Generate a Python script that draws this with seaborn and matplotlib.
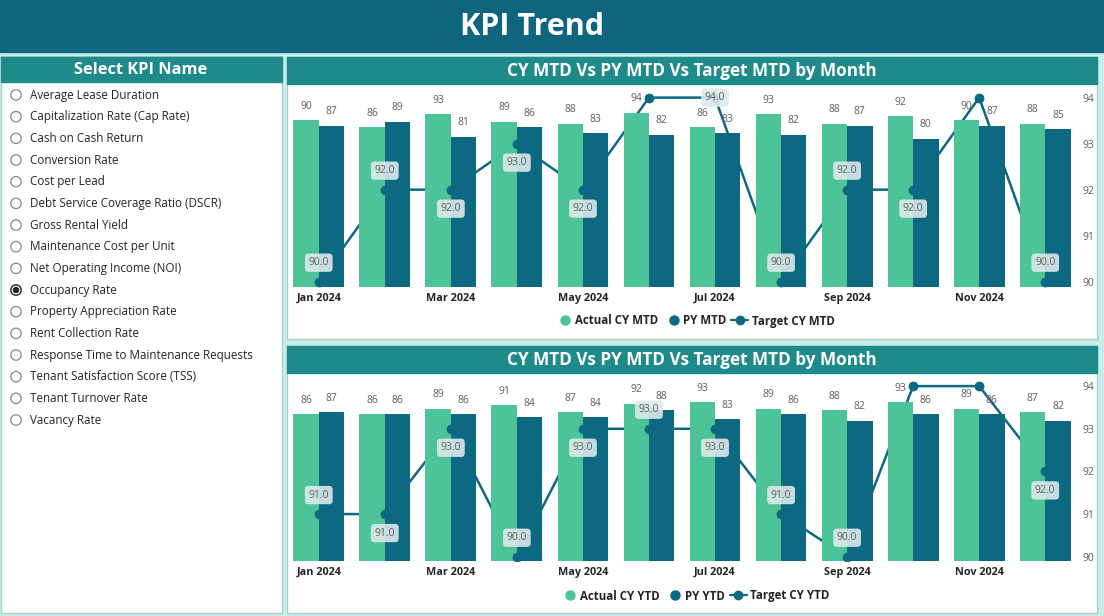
import numpy as np
import pandas as pd
import matplotlib
matplotlib.use('Agg')
import matplotlib.pyplot as plt
import seaborn as sns
from matplotlib.patches import Rectangle, Circle
from matplotlib.lines import Line2D
from matplotlib.legend_handler import HandlerBase

months = ['Jan 2024', 'Feb 2024', 'Mar 2024', 'Apr 2024', 'May 2024', 'Jun 2024',
          'Jul 2024', 'Aug 2024', 'Sep 2024', 'Oct 2024', 'Nov 2024', 'Dec 2024']

actual_mtd = [90, 86, 93, 89, 88, 94, 86, 93, 88, 92, 90, 88]
py_mtd = [87, 89, 81, 86, 83, 82, 83, 82, 87, 80, 87, 85]
target_mtd = [90, 92, 92, 93, 92, 94, 94, 90, 92, 92, 94, 90]

actual_ytd = [86, 86, 89, 91, 87, 92, 93, 89, 88, 93, 89, 87]
py_ytd = [87, 86, 86, 84, 84, 88, 83, 86, 82, 86, 86, 82]
target_ytd = [91, 91, 93, 90, 93, 93, 93, 91, 90, 94, 94, 92]

target_ticks = [90, 91, 92, 93, 94]

kpi_names = ['Average Lease Duration', 'Capitalization Rate (Cap Rate)', 'Cash on Cash Return',
             'Conversion Rate', 'Cost per Lead', 'Debt Service Coverage Ratio (DSCR)',
             'Gross Rental Yield', 'Maintenance Cost per Unit', 'Net Operating Income (NOI)',
             'Occupancy Rate', 'Property Appreciation Rate', 'Rent Collection Rate',
             'Response Time to Maintenance Requests', 'Tenant Satisfaction Score (TSS)',
             'Tenant Turnover Rate', 'Vacancy Rate']
selected_kpi = 'Occupancy Rate'

# where the target data labels sit (up / down / on the point / hidden)
mtd_label_pos = ['up', 'up', 'down', 'down', 'down', None, 'mid', 'up', 'up', 'down', None, 'up']
ytd_label_pos = ['up', 'down', 'down', 'up', 'down', 'up', 'down', 'up', 'up', None, None, 'down']

# ---- style ----
GREEN = '#4DC498'
TEAL = '#0D6882'
TITLE_BG = '#10657E'
HEADER = '#1E8A89'
LIGHT = '#C9EEE9'
TEXT = '#252423'
GREY = '#605E5C'
W, H = 1104, 616

sns.set_theme(style='white')
plt.rcParams['font.family'] = ['Open Sans', 'DejaVu Sans']


# legend handles: dot hugging its text, and a line with a dot in the middle
class DotHandler(HandlerBase):
    def create_artists(self, legend, orig_handle, xdescent, ydescent, width, height, fontsize, trans):
        dot = Line2D([width * 0.72 - xdescent], [height / 2 - ydescent], marker='o', ls='none',
                     color=orig_handle.get_color(), ms=orig_handle.get_markersize(), transform=trans)
        return [dot]


class LineDotHandler(HandlerBase):
    def create_artists(self, legend, orig_handle, xdescent, ydescent, width, height, fontsize, trans):
        y = height / 2 - ydescent
        x0, x1 = width * 0.22 - xdescent, width - xdescent
        line = Line2D([x0, x1], [y, y], color=orig_handle.get_color(), lw=orig_handle.get_linewidth(),
                      transform=trans)
        dot = Line2D([(x0 + x1) / 2], [y], marker='o', ls='none', color=orig_handle.get_color(),
                     ms=orig_handle.get_markersize(), transform=trans)
        return [line, dot]


fig = plt.figure(figsize=(W / 100, H / 100), dpi=100)

# background canvas in pixel coordinates
bg = fig.add_axes([0, 0, 1, 1])
bg.set_xlim(0, W)
bg.set_ylim(H, 0)
bg.axis('off')
bg.add_patch(Rectangle((0, 0), W, H, color=LIGHT))
bg.add_patch(Rectangle((0, 0), W, 52, color=TITLE_BG))
bg.text(532, 27, 'KPI Trend', color='white', fontsize=22, fontweight='bold', ha='center', va='center')

# panels
for (x0, y0, w, h) in [(1, 56, 281, 557), (287, 57, 810, 282), (287, 346, 810, 267)]:
    bg.add_patch(Rectangle((x0, y0), w, h, fc='white', ec='#A5D3CD', lw=1))
bg.add_patch(Rectangle((1, 57), 281, 25, color=HEADER))
bg.add_patch(Rectangle((287, 57), 810, 27, color=HEADER))
bg.add_patch(Rectangle((287, 346), 810, 27, color=HEADER))
bg.text(141, 70, 'Select KPI Name', color='white', fontsize=11.8, fontweight='bold', ha='center', va='center')
bg.text(692, 71, 'CY MTD Vs PY MTD Vs Target MTD by Month', color='white', fontsize=12.3,
        fontweight='bold', ha='center', va='center')
bg.text(692, 360, 'CY MTD Vs PY MTD Vs Target MTD by Month', color='white', fontsize=12.3,
        fontweight='bold', ha='center', va='center')

# slicer list
for i, name in enumerate(kpi_names):
    y = 95 + i * 21.67
    if name == selected_kpi:
        bg.add_patch(Circle((16, y), 5.2, fc='white', ec=TEXT, lw=1))
        bg.add_patch(Circle((16, y), 3.2, fc=TEXT, ec='none'))
    else:
        bg.add_patch(Circle((16, y), 5.2, fc='white', ec='#8A8886', lw=0.9))
    bg.text(30, y, name, color=TEXT, fontsize=8.4, ha='left', va='center')


def draw_chart(top_px, bottom_px, actual, py, target, names, label_pos, t_lim, legend_y):
    rect = [293 / W, 1 - bottom_px / H, (1071 - 293) / W, (bottom_px - top_px) / H]
    ax = fig.add_axes(rect)
    ax.patch.set_visible(False)
    ax2 = ax.twinx()   # bars
    ax3 = ax.twinx()   # markers and labels on top of the bars
    x = np.arange(len(months))

    # target line sits behind the bars
    sns.lineplot(x=x, y=target, ax=ax, color=TEAL, linewidth=1.8)

    df = pd.DataFrame({'Month': months * 2, 'Value': actual + py,
                       'Series': [names[0]] * len(months) + [names[1]] * len(months)})
    sns.barplot(data=df, x='Month', y='Value', hue='Series', palette=[GREEN, TEAL],
                width=0.77, saturation=1, linewidth=0, edgecolor='none', ax=ax2, legend=False)
    for c in ax2.containers:
        ax2.bar_label(c, fmt='%d', padding=6, fontsize=7.5, color=GREY)
    ax2.set_ylim(0, 107)

    sns.scatterplot(x=x, y=target, ax=ax3, color=TEAL, s=50, edgecolor=TEAL, linewidth=0, zorder=5)
    offsets = {'up': 19, 'down': -19, 'mid': 0}
    for i, (v, pos) in enumerate(zip(target, label_pos)):
        if pos is None:
            continue
        ax3.annotate(f'{v:.1f}', (i, v), xytext=(0, offsets[pos]), textcoords='offset pixels',
                     ha='center', va='center', fontsize=7.5, color=GREY, zorder=6,
                     bbox=dict(boxstyle='round,pad=0.35', fc='#DCEAEB', ec='none', alpha=0.9))

    for a in (ax, ax2, ax3):
        a.set_xlabel('')
        a.set_ylabel('')
        for s in a.spines.values():
            s.set_visible(False)
    ax.set_ylim(*t_lim)
    ax3.set_ylim(*t_lim)
    ax2.set_yticks([])
    ax3.set_yticks([])
    ax.yaxis.tick_right()
    ax.set_yticks(target_ticks)
    ax.tick_params(axis='y', length=0, labelsize=7.5, labelcolor=GREY, pad=8)
    ax.set_xticks(x)
    ax.set_xticklabels([m if i % 2 == 0 else '' for i, m in enumerate(months)])
    ax.tick_params(axis='x', length=0, labelsize=7.8, labelcolor=TEXT, pad=4)
    for t in ax.get_xticklabels():
        t.set_fontweight('bold')
    ax.set_xlim(-0.39, len(months) - 0.61)

    h_actual = Line2D([], [], marker='o', ls='none', color=GREEN, ms=6.5)
    h_py = Line2D([], [], marker='o', ls='none', color=TEAL, ms=6.5)
    h_target = Line2D([], [], marker='o', color=TEAL, lw=1.6, ms=6)
    leg = fig.legend([h_actual, h_py, h_target], names, loc='center',
                     bbox_to_anchor=(692 / W, 1 - legend_y / H),
                     handler_map={h_actual: DotHandler(), h_py: DotHandler(), h_target: LineDotHandler()},
                     ncol=3, frameon=False, prop={'weight': 'bold', 'size': 8.3},
                     handlelength=1.9, handletextpad=0.3, columnspacing=0.0)
    for t in leg.get_texts():
        t.set_color(TEXT)


draw_chart(88.4, 287, actual_mtd, py_mtd, target_mtd,
           ['Actual CY MTD', 'PY MTD', 'Target CY MTD'], mtd_label_pos, (89.885, 94.2), 321)
draw_chart(378, 561, actual_ytd, py_ytd, target_ytd,
           ['Actual CY YTD', 'PY YTD', 'Target CY YTD'], ytd_label_pos, (89.9, 94.19), 596)

fig.savefig('out.png', dpi=100)
